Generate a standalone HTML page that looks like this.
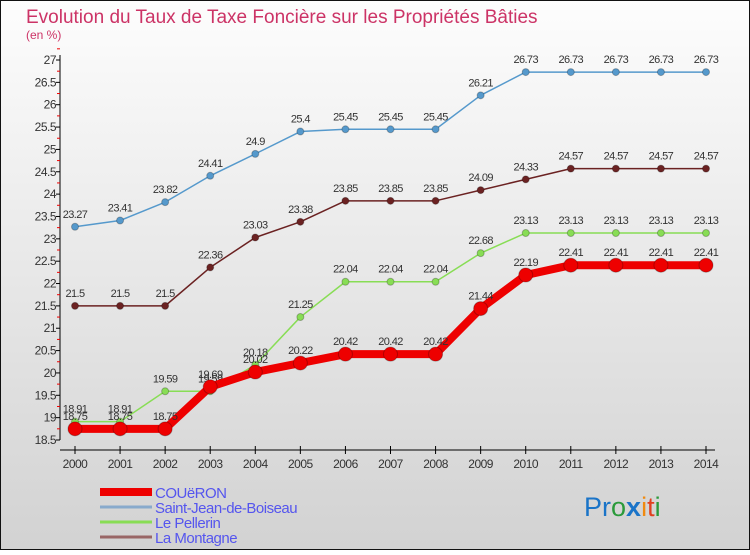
<!DOCTYPE html>
<html><head><meta charset="utf-8"><style>
body{margin:0;width:750px;height:550px;overflow:hidden;font-family:"Liberation Sans",sans-serif}
svg text{font-family:"Liberation Sans",sans-serif}
</style></head><body>
<svg id="c" width="750" height="550" xmlns="http://www.w3.org/2000/svg">
<defs><linearGradient id="bg" x1="0" y1="0" x2="0" y2="1"><stop offset="0" stop-color="#fdfdfd"/><stop offset="1" stop-color="#d2d2d2"/></linearGradient></defs>
<rect x="0.5" y="0.5" width="749" height="549" fill="url(#bg)" stroke="#111"/>
<text x="26" y="23" font-size="19" fill="#cc3366">Evolution du Taux de Taxe Foncière sur les Propriétés Bâties</text>
<text x="26" y="39" font-size="12" fill="#cc3366">(en %)</text>
<g id="axes"></g><g id="series"></g><g id="legend"></g>
<text x="584" y="516" font-size="27"><tspan fill="#1a74c8">Pr</tspan><tspan fill="#2a9a3a">o</tspan><tspan fill="#1a74c8" font-weight="bold">x</tspan><tspan fill="#f08a10">i</tspan><tspan fill="#e04020">t</tspan><tspan fill="#2a9a3a">i</tspan></text>
</svg>
<script>
const years=[2000,2001,2002,2003,2004,2005,2006,2007,2008,2009,2010,2011,2012,2013,2014];
const couer=[18.75,18.75,18.75,19.69,20.02,20.22,20.42,20.42,20.42,21.44,22.19,22.41,22.41,22.41,22.41];
const sjb=[23.27,23.41,23.82,24.41,24.9,25.4,25.45,25.45,25.45,26.21,26.73,26.73,26.73,26.73,26.73];
const pell=[18.91,18.91,19.59,19.59,20.18,21.25,22.04,22.04,22.04,22.68,23.13,23.13,23.13,23.13,23.13];
const mont=[21.5,21.5,21.5,22.36,23.03,23.38,23.85,23.85,23.85,24.09,24.33,24.57,24.57,24.57,24.57];
const yTicks=[18.5,19,19.5,20,20.5,21,21.5,22,22.5,23,23.5,24,24.5,25,25.5,26,26.5,27];
const NS="http://www.w3.org/2000/svg";
const X=i=>75+i*(631/14), Y=v=>440-(v-18.5)*(380/8.5);
function mk(t,a,p,txt){const e=document.createElementNS(NS,t);for(const k in a)e.setAttribute(k,a[k]);if(txt!==undefined)e.textContent=txt;p.appendChild(e);return e;}
const ax=document.getElementById('axes');
let e=mk('line',{x1:60,y1:55,x2:60,y2:440,stroke:'#000'},ax);


e=mk('line',{x1:60,y1:450,x2:715,y2:450,stroke:'#000'},ax);


yTicks.forEach(v=>{
 mk('line',{x1:56,y1:Y(v),x2:60,y2:Y(v),stroke:'#000'},ax);
 mk('line',{x1:57,y1:Y(v+0.25),x2:60,y2:Y(v+0.25),stroke:'#e00'},ax);
 e=mk('text',{x:56,y:Y(v)+4,'font-size':12,'text-anchor':'end',fill:'#333','letter-spacing':'-0.5'},ax,String(v));
 
 
});
years.forEach((yr,i)=>{
 mk('line',{x1:X(i),y1:446,x2:X(i),y2:454,stroke:'#000'},ax);
 e=mk('text',{x:X(i),y:468,'font-size':12,'text-anchor':'middle',fill:'#333','letter-spacing':'-0.5'},ax,String(yr));
 
 
});
const sg=document.getElementById('series');
function series(data,color,w,r,name){
 const g=mk('g',{},sg);
 
 
 mk('polyline',{points:data.map((v,i)=>X(i)+','+Y(v)).join(' '),fill:'none',stroke:color,'stroke-width':w,'stroke-linejoin':'round'},g);
 data.forEach((v,i)=>{
  mk('circle',{cx:X(i),cy:Y(v),r:r,fill:color,stroke:'rgba(0,0,0,0.25)'},g);
  const t=mk('text',{x:X(i),y:Y(v)-9,'font-size':11,'text-anchor':'middle',fill:'#333','letter-spacing':'-0.6'},g,String(v));
  
  
 });
}
series(sjb,'#5599cc',1.5,3.5,'series-saint-jean-de-boiseau');
series(mont,'#6b2222',1.5,3.5,'series-la-montagne');
series(pell,'#88dd55',1.5,3.5,'series-le-pellerin');
series(couer,'#ee0000',8,7,'series-coueron');
const lg=document.getElementById('legend');
const names=['COUëRON','Saint-Jean-de-Boiseau','Le Pellerin','La Montagne'];
const cols=['#ee0000','#88aacc','#88dd55','#996666'];
const ws=[8,3,3,3];
names.forEach((n,i)=>{
 const y=492+i*15;
 const g=mk('g',{},lg);
 
 
 mk('line',{x1:100,y1:y,x2:152,y2:y,stroke:cols[i],'stroke-width':ws[i]},g);
 mk('text',{x:155,y:y+6,'font-size':15,fill:'#5555ee','letter-spacing':'-0.5'},g,n);
});
</script>
</body></html>
